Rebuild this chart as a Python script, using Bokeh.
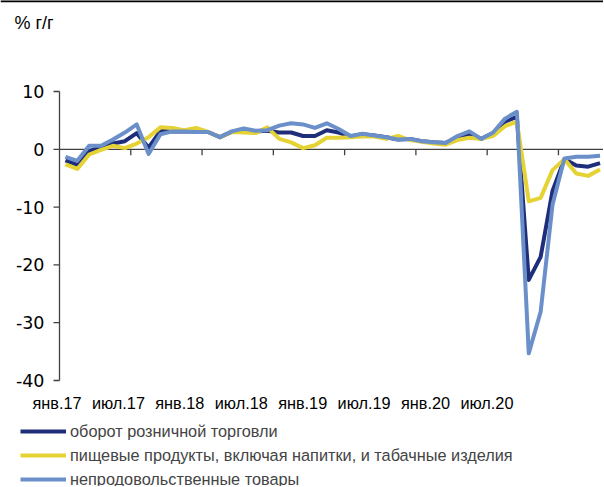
import numpy as np
from bokeh.plotting import figure
from bokeh.models import Legend, LegendItem, Range1d
from bokeh.core.properties import value
from bokeh.embed import file_html
from bokeh.resources import INLINE

# ---- data (monthly, Jan 2017 .. Oct 2020), % y/y ----
retail = [-1.9, -2.7, -0.3, 0.4, 1.0, 1.4, 2.8, 0.3, 3.2, 3.1, 3.1, 3.1,
          3.0, 2.1, 3.0, 3.4, 3.1, 3.2, 2.9, 2.9, 2.3, 2.3, 3.3, 2.9,
          2.2, 2.6, 2.4, 2.1, 1.7, 1.8, 1.4, 1.2, 1.1, 2.0, 2.7, 1.8,
          2.8, 4.8, 5.6, -22.6, -18.6, -7.2, -1.7, -2.8, -3.0, -2.4]
food = [-2.6, -3.4, -0.9, -0.1, 0.6, 0.2, 1.0, 2.1, 3.8, 3.7, 3.3, 3.7,
        3.0, 2.1, 3.0, 2.9, 2.8, 3.8, 1.8, 1.2, 0.2, 0.7, 2.0, 2.0,
        2.1, 2.2, 2.2, 1.8, 2.3, 1.6, 1.3, 1.0, 0.8, 1.6, 2.0, 1.8,
        2.3, 4.0, 4.8, -9.0, -8.4, -3.6, -1.7, -4.2, -4.6, -3.5]
nonfood = [-1.3, -2.0, 0.6, 0.6, 1.7, 2.9, 4.3, -0.8, 2.6, 3.1, 3.1, 3.0,
           3.0, 2.1, 3.1, 3.6, 3.2, 3.3, 4.1, 4.5, 4.3, 3.7, 4.5, 3.5,
           2.3, 2.7, 2.4, 2.1, 1.7, 1.8, 1.4, 1.2, 1.1, 2.3, 3.1, 1.8,
           2.9, 5.3, 6.5, -35.3, -28.1, -9.6, -1.6, -1.3, -1.3, -1.1]
series_names = ["оборот розничной торговли",
                "пищевые продукты, включая напитки, и табачные изделия",
                "непродовольственные товары"]
x_labels = ["янв.17", "июл.17", "янв.18", "июл.18", "янв.19", "июл.19", "янв.20", "июл.20"]
y_ticks = [-40, -30, -20, -10, 0, 10]
unit_label = "% г/г"

colors = ["#1F2E7A", "#E5D335", "#6B8FC9"]
axis_col = "#404040"
FONT = "Liberation Sans"

# ---- geometry (pixels -> data scales) ----
W, H = 603, 486
PX_X = 11.88          # pixels per month
PX_Y = 5.78           # pixels per percentage point
x0_px, y_top_px = 59, 91   # plot area origin inside the figure
ymin, ymax = min(y_ticks), max(y_ticks)
x_start = -0.5 - x0_px / PX_X
x_end = x_start + W / PX_X
y_end = ymax + y_top_px / PX_Y
y_start = y_end - H / PX_Y

n = len(retail)
x = np.arange(n)

p = figure(width=W, height=H, output_backend="svg", toolbar_location=None,
           x_range=Range1d(x_start, x_end), y_range=Range1d(y_start, y_end),
           x_axis_location=None, y_axis_location=None,
           min_border=0, title=None)
p.outline_line_color = None
p.grid.visible = False

# ---- top rule of the page ----
p.segment(x0=[x_start], y0=[y_end - 0.6 / PX_Y], x1=[x_end], y1=[y_end - 0.6 / PX_Y],
          line_color="black", line_width=2.5)

# ---- y axis (line, ticks, labels) ----
ax_x = -0.5
tick_len = 6 / PX_X
p.segment(x0=[ax_x], y0=[ymin], x1=[ax_x], y1=[ymax], line_color=axis_col, line_width=1.3)
p.segment(x0=[ax_x - tick_len] * len(y_ticks), y0=y_ticks, x1=[ax_x] * len(y_ticks), y1=y_ticks,
          line_color=axis_col, line_width=1.3)
p.text(x=[ax_x - 15 / PX_X] * len(y_ticks), y=y_ticks, text=[str(v) for v in y_ticks],
       text_align="right", text_baseline="middle", text_font=value("DejaVu Sans"),
       text_font_size="17.5px", text_color="black")

# ---- x axis: zero line with tick marks every 6 months, labels below the plot ----
p.segment(x0=[ax_x], y0=[0], x1=[x_end], y1=[0], line_color=axis_col, line_width=1.3)
tick_x = np.arange(6, n, 6) - 0.5
p.segment(x0=tick_x, y0=np.zeros(len(tick_x)), x1=tick_x,
          y1=np.full(len(tick_x), -6 / PX_Y), line_color=axis_col, line_width=1.3)
label_x = np.linspace(-0.71, 35.48, len(x_labels))
p.text(x=label_x, y=[ymin - 22 / PX_Y] * len(x_labels), text=x_labels,
       text_align="center", text_baseline="middle", text_font=value(FONT),
       text_font_size="16.3px", text_color="black")

# ---- unit label ----
p.text(x=[ax_x - 45 / PX_X], y=[ymax + 69 / PX_Y], text=[unit_label],
       text_align="left", text_baseline="middle", text_font=value(FONT),
       text_font_size="18px", text_color="black")

# ---- series ----
renderers = []
for vals, col in zip([retail, food, nonfood], colors):
    r = p.line(x, vals, line_color=col, line_width=4, line_join="round")
    renderers.append(r)

legend = Legend(items=[LegendItem(label=nm, renderers=[r]) for nm, r in zip(series_names, renderers)],
                location=(20, -5), orientation="vertical", glyph_width=46, glyph_height=24,
                label_height=24, label_standoff=4, spacing=0, padding=0, margin=0,
                border_line_color=None, background_fill_alpha=0,
                label_text_font=FONT, label_text_font_size="16.3px")
p.add_layout(legend, "center")

open("out.html", "w").write(file_html(p, INLINE))
